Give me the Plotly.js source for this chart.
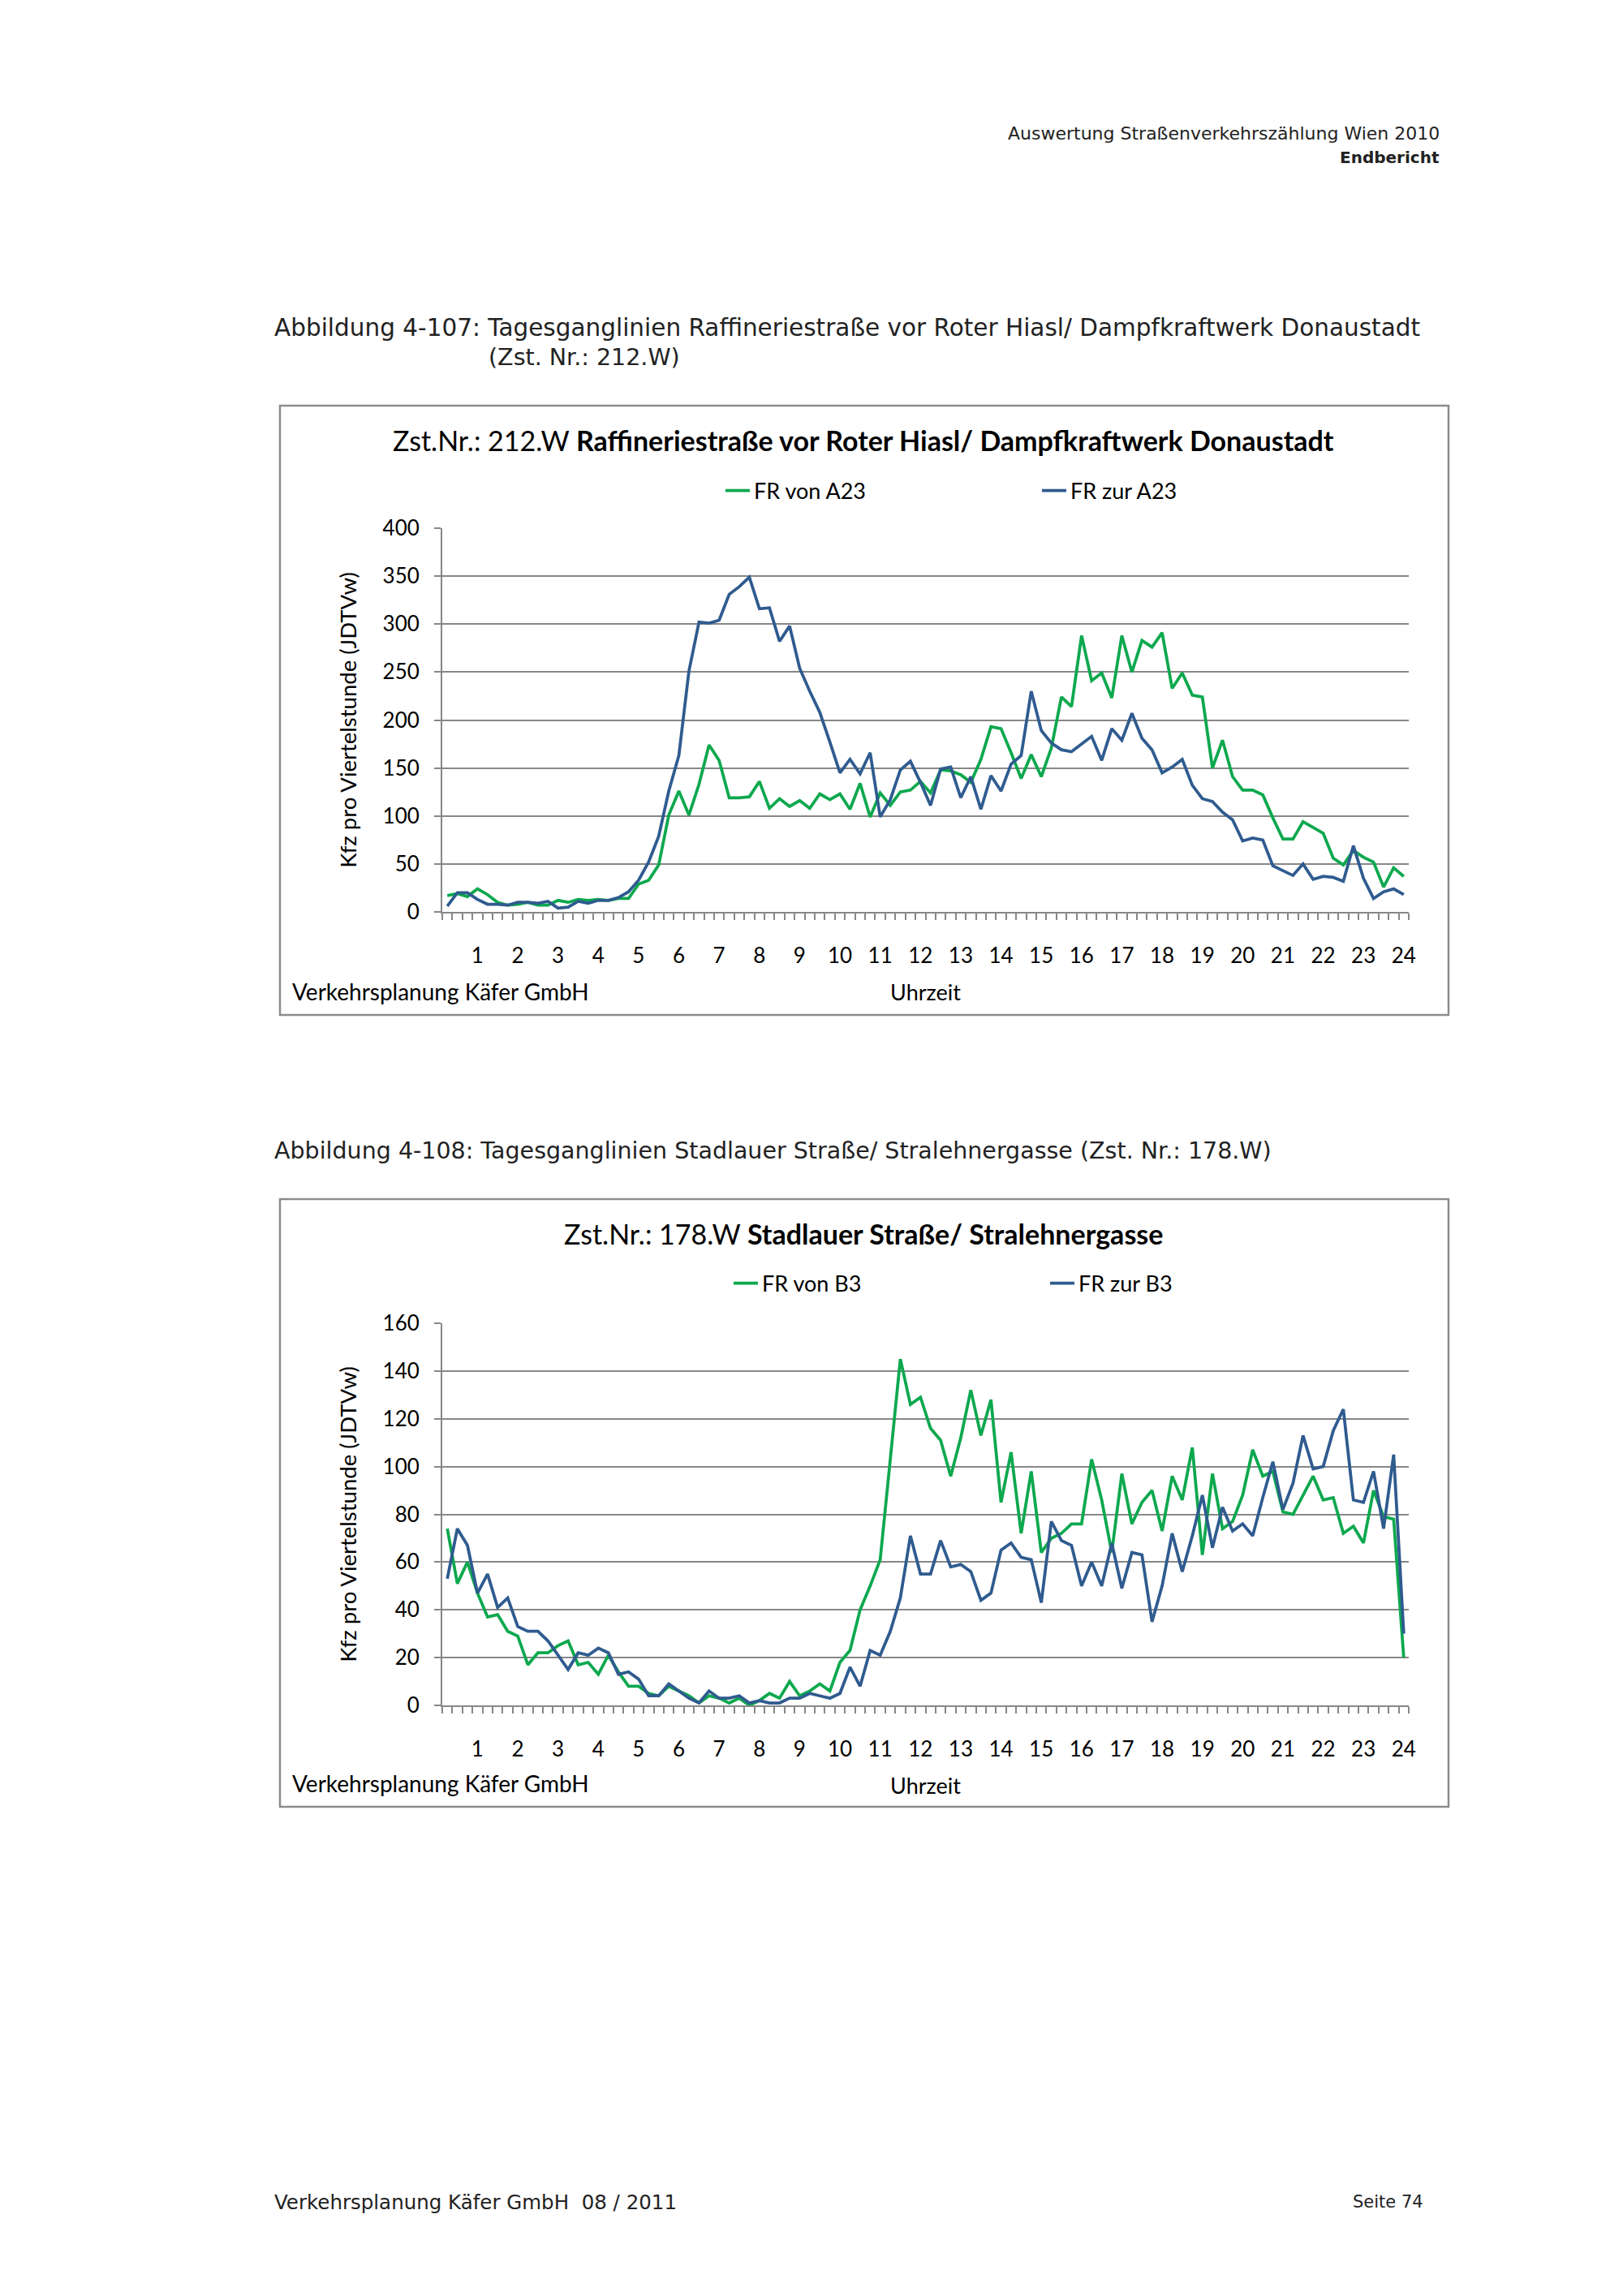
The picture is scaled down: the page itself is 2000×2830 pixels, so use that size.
<!DOCTYPE html>
<html>
<head>
<meta charset="utf-8">
<script src="https://cdn.plot.ly/plotly-3.0.1.min.js"></script>
<style>html,body{margin:0;padding:0;background:#fff;}#page{width:2000px;height:2830px;}</style>
</head>
<body>
<div id="page"></div>
<script>
// ---------- DATA ----------
const timeCats = ["0:15","0:30","0:45","1:00","1:15","1:30","1:45","2:00","2:15","2:30","2:45","3:00",
"3:15","3:30","3:45","4:00","4:15","4:30","4:45","5:00","5:15","5:30","5:45","6:00",
"6:15","6:30","6:45","7:00","7:15","7:30","7:45","8:00","8:15","8:30","8:45","9:00",
"9:15","9:30","9:45","10:00","10:15","10:30","10:45","11:00","11:15","11:30","11:45","12:00",
"12:15","12:30","12:45","13:00","13:15","13:30","13:45","14:00","14:15","14:30","14:45","15:00",
"15:15","15:30","15:45","16:00","16:15","16:30","16:45","17:00","17:15","17:30","17:45","18:00",
"18:15","18:30","18:45","19:00","19:15","19:30","19:45","20:00","20:15","20:30","20:45","21:00",
"21:15","21:30","21:45","22:00","22:15","22:30","22:45","23:00","23:15","23:30","23:45","24:00"];

const hourLabels = ["1","2","3","4","5","6","7","8","9","10","11","12","13","14","15","16","17","18","19","20","21","22","23","24"];

// Chart 1: Zst. 212.W
const vonA23 = [17,19,16,24,18,10,7,8,10,7, 7,12,10,13,12,13,12,14,14,29,
  33,49,101,126,101,133,174,158,119,119, 120,136,108,118,110,116,108,123,117,123,
  107,134,99,124,111,125,127,136,124,148, 147,143,135,159,193,191,166,139,164,141,
  171,224,214,288,241,249,223,288,250,283, 276,291,233,249,226,224,150,179,141,127,
  127,122,98,76,76,94,88,82,56,49, 64,57,52,26,46,37];
const zurA23 = [6,20,20,13,8,8,7,10,10,9, 11,4,5,11,9,12,12,15,21,33,
  52,79,126,163,251,302,301,304,331,339, 349,316,317,282,298,254,230,208,177,145,
  159,144,166,99,117,148,157,135,111,149, 151,119,141,107,142,126,154,163,230,189,
  176,169,167,175,183,158,191,179,207,181, 169,145,151,159,132,118,115,104,96,74,
  77,75,48,43,38,50,34,37,36,32, 69,35,14,21,24,18];

// Chart 2: Zst. 178.W
const vonB3 = [74,51,60,47,37,38,31,29,17,22, 22,25,27,17,18,13,21,14,8,8,
  5,4,8,6,4,1,4,3,1,3, 0,2,5,3,10,4,6,9,6,18,
  23,40,50,61,102,145,126,129,116,111, 96,112,132,113,128,85,106,72,98,64,
  70,72,76,76,103,86,64,97,76,85, 90,73,96,86,108,63,97,74,77,88,
  107,96,98,81,80,88,96,86,87,72, 75,68,90,79,78,20];
const zurB3 = [53,74,67,47,55,41,45,33,31,31, 27,21,15,22,21,24,22,13,14,11,
  4,4,9,6,3,1,6,3,3,4, 1,2,1,1,3,3,5,4,3,5,
  16,8,23,21,31,45,71,55,55,69, 58,59,56,44,47,65,68,62,61,43,
  77,69,67,50,60,50,68,49,64,63, 35,50,72,56,71,88,66,83,73,76,
  71,87,102,82,93,113,99,100,115,124, 86,85,98,74,105,30];

const names1 = ["FR von A23","FR zur A23"];
const names2 = ["FR von B3","FR zur B3"];

// ---------- helpers ----------
const W = 2000, H = 2830;
const px = v => v / W;
const py = v => 1 - v / H;
const toHour = s => { const p = s.split(":"); return Number(p[0]) + Number(p[1]) / 60; };
const xs = timeCats.map(toHour);
const tickVals = hourLabels.map(Number);

const GREEN = "#0DA84E";
const BLUE = "#2F5B8F";
const GRID = "#878787";
const CHART_FONT = "Lato";
const PAGE_FONT = "DejaVu Sans";

function xAxis(anchor) {
  return {
    anchor: anchor, domain: [px(545), px(1736)],
    range: [0.125, 24.125], fixedrange: true,
    tickmode: "array", tickvals: tickVals, ticktext: hourLabels,
    ticks: "", showgrid: false, zeroline: false,
    showline: true, linecolor: GRID, linewidth: 2,
    tickfont: {family: CHART_FONT, size: 26, color: "#000"},
    ticklabelstandoff: 30,
    minor: {ticks: "outside", ticklen: 8, tickwidth: 2, tickcolor: GRID,
            tickmode: "linear", tick0: 0.125, dtick: 0.25, showgrid: false},
    title: {text: "Uhrzeit", font: {family: CHART_FONT, size: 27, color: "#000"}, standoff: 22}
  };
}
function yAxis(anchor, top, bottom, max, step) {
  return {
    anchor: anchor, domain: [py(bottom), py(top)],
    range: [0, max], tickmode: "linear", tick0: 0, dtick: step, fixedrange: true,
    showgrid: true, gridcolor: GRID, gridwidth: 2, zeroline: false,
    showline: true, linecolor: GRID, linewidth: 2,
    ticks: "outside", ticklen: 8, tickwidth: 2, tickcolor: GRID,
    tickfont: {family: CHART_FONT, size: 26, color: "#000"},
    ticklabelstandoff: 13,
    title: {text: "Kfz pro Viertelstunde (JDTVw)", font: {family: CHART_FONT, size: 27.5, color: "#000"}, standoff: 24}
  };
}

const traces = [
  {x: xs, y: vonA23, name: names1[0], type: "scatter", mode: "lines", line: {color: GREEN, width: 3.75}, xaxis: "x", yaxis: "y", legend: "legend", hoverinfo: "skip"},
  {x: xs, y: zurA23, name: names1[1], type: "scatter", mode: "lines", line: {color: BLUE, width: 3.75}, xaxis: "x", yaxis: "y", legend: "legend", hoverinfo: "skip"},
  {x: xs, y: vonB3, name: names2[0], type: "scatter", mode: "lines", line: {color: GREEN, width: 3.75}, xaxis: "x2", yaxis: "y2", legend: "legend2", hoverinfo: "skip"},
  {x: xs, y: zurB3, name: names2[1], type: "scatter", mode: "lines", line: {color: BLUE, width: 3.75}, xaxis: "x2", yaxis: "y2", legend: "legend2", hoverinfo: "skip"}
];

function ann(text, x, y, xanchor, font) {
  return {text: text, x: px(x), y: py(y), xref: "paper", yref: "paper", xanchor: xanchor, yanchor: "middle", showarrow: false, font: font};
}
const pageFont = s => ({family: PAGE_FONT, size: s, color: "#222"});
const chartFont = s => ({family: CHART_FONT, size: s, color: "#000"});

const annotations = [
  ann("Auswertung Straßenverkehrszählung Wien 2010", 1776, 165, "right", pageFont(22)),
  ann("<b>Endbericht</b>", 1776, 194, "right", pageFont(20)),
  ann("Abbildung 4-107: Tagesganglinien Raffineriestraße vor Roter Hiasl/ Dampfkraftwerk Donaustadt", 336, 404, "left", pageFont(29.5)),
  ann("(Zst. Nr.: 212.W)", 600, 440, "left", pageFont(28.5)),
  ann("Zst.Nr.: 212.W <b>Raffineriestraße vor Roter Hiasl/ Dampfkraftwerk Donaustadt</b>", 1064, 542, "center", chartFont(34)),
  ann("Verkehrsplanung Käfer GmbH", 358, 1222, "left", chartFont(28)),
  ann("Abbildung 4-108: Tagesganglinien Stadlauer Straße/ Stralehnergasse (Zst. Nr.: 178.W)", 336, 1418, "left", pageFont(28.5)),
  ann("Zst.Nr.: 178.W <b>Stadlauer Straße/ Stralehnergasse</b>", 1064, 1520, "center", chartFont(34)),
  ann("Verkehrsplanung Käfer GmbH", 358, 2198, "left", chartFont(28)),
  ann("Verkehrsplanung Käfer GmbH  08 / 2011", 336, 2714, "left", pageFont(24.5)),
  ann("Seite 74", 1756, 2714, "right", pageFont(21))
];

const frame = (t, b) => ({type: "rect", xref: "paper", yref: "paper", x0: px(345), x1: px(1785), y0: py(b), y1: py(t),
  line: {color: "#8C8C8C", width: 2.5}, fillcolor: "rgba(0,0,0,0)", layer: "below"});

const legendBase = (x, y) => ({orientation: "h", x: px(x), xanchor: "left", y: py(y), yanchor: "middle",
  entrywidth: 345, entrywidthmode: "pixels", font: chartFont(27), bgcolor: "rgba(0,0,0,0)", borderwidth: 0, itemwidth: 30});

const layout = {
  width: W, height: H, margin: {l: 0, r: 0, t: 0, b: 0},
  paper_bgcolor: "#fff", plot_bgcolor: "#fff", showlegend: true,
  font: {family: CHART_FONT, color: "#000"},
  xaxis: xAxis("y"), yaxis: yAxis("x", 651, 1124, 400, 50),
  xaxis2: xAxis("y2"), yaxis2: yAxis("x2", 1631, 2102, 160, 20),
  legend: legendBase(889, 605), legend2: legendBase(899, 1582),
  annotations: annotations,
  shapes: [frame(500, 1251), frame(1478, 2227)]
};

Plotly.newPlot("page", traces, layout, {staticPlot: true, displayModeBar: false});
</script>
</body>
</html>
